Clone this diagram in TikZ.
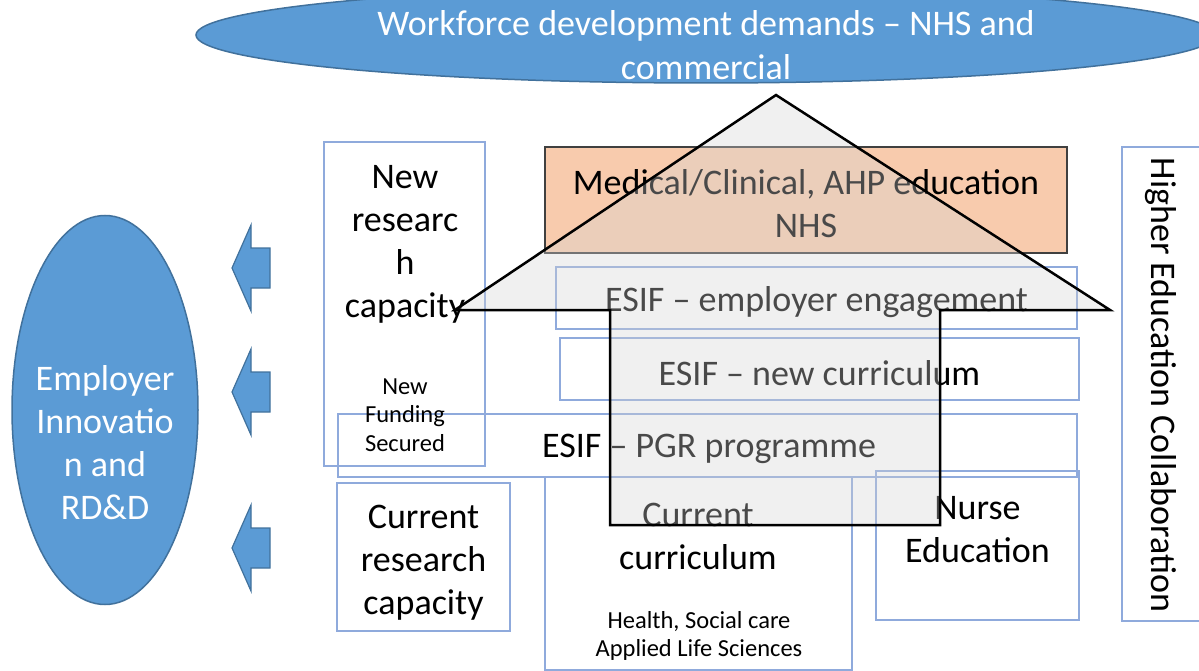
\documentclass[tikz,border=0pt]{standalone}
\usepackage{fontspec}
\setmainfont{Carlito}
\usetikzlibrary{shapes.geometric}

\definecolor{blobfill}{HTML}{5B9BD5}
\definecolor{blobedge}{HTML}{41719C}
\definecolor{boxline}{HTML}{8FAADC}
\definecolor{nhsfill}{HTML}{F8CBAD}
\definecolor{nhsedge}{HTML}{404040}

\tikzset{
  bigtext/.style={font=\fontsize{36}{43}\selectfont, align=center},
  smalltext/.style={font=\fontsize{24.5}{28.5}\selectfont, align=center},
  box/.style={draw=boxline, line width=1.5pt, inner sep=0pt},
  blob/.style={ellipse, draw=blobedge, fill=blobfill, line width=1.5pt, inner sep=0pt},
  blockarrow/.style={draw=blobedge, fill=blobfill, line width=1.2pt, line join=miter},
  housearrow/.style={draw=black, line width=2.5pt, fill=black!17, fill opacity=.35, draw opacity=1}
}

\begin{document}
\begin{tikzpicture}[x=1pt,y=-1pt]
  \useasboundingbox (0,0) rectangle (1199,671);

  % blue ellipses
  \node[blob, minimum width=1020pt, minimum height=96pt] (wfd) at (706,35) {};
  \node[blob, minimum width=186pt, minimum height=389pt] (emp) at (105,410) {};

  \begin{scope}[every node/.style={bigtext, text=white}]
    \node (wfdtext) at (706,45) {Workforce development demands – NHS and\\[1pt]commercial};
    \node (emptext) at (105,443) {Employer\\Innovatio\\n and\\RD\&D};
  \end{scope}

  % blue block arrows
  \draw[blockarrow] (232,268) -- ++(19,-43) -- ++(0,23) -- ++(19,0) -- ++(0,40) -- ++(-19,0) -- ++(0,23) -- cycle;
  \draw[blockarrow] (232,392) -- ++(19,-43) -- ++(0,23) -- ++(19,0) -- ++(0,40) -- ++(-19,0) -- ++(0,23) -- cycle;
  \draw[blockarrow] (232,548) -- ++(19,-43) -- ++(0,23) -- ++(19,0) -- ++(0,40) -- ++(-19,0) -- ++(0,23) -- cycle;

  % boxes
  \node[draw=nhsedge, fill=nhsfill, line width=1.5pt, minimum width=522pt, minimum height=106pt] (nhs) at (806,200) {};

  \begin{scope}[every node/.style={box}]
    \node[minimum width=161pt, minimum height=324pt] (newres) at (404.5,304) {};
    \node[minimum width=521pt, minimum height=62pt] (esifemp) at (816.5,298) {};
    \node[minimum width=519pt, minimum height=62pt] (esifcur) at (819.5,369) {};
    \node[minimum width=739pt, minimum height=63pt] (esifpgr) at (707.5,445.5) {};
    \node[minimum width=173pt, minimum height=148pt] (curres) at (423.5,557) {};
    \node[minimum width=307pt, minimum height=193pt] (curcurr) at (698.5,573.5) {};
    \node[minimum width=203pt, minimum height=149pt] (nurse) at (977.5,545.5) {};
    \node[minimum width=83pt, minimum height=474pt] (hec) at (1163.5,384) {};
  \end{scope}

  % texts in the boxes
  \node[bigtext] (nhstext) at (806,204) {Medical/Clinical, AHP education\\NHS};
  \node[bigtext] (esifemptext) at (816.5,302) {ESIF – employer engagement};
  \node[bigtext] (esifcurtext) at (819.5,373) {ESIF – new curriculum};
  \node[bigtext] (esifpgrtext) at (709,449) {ESIF – PGR programme};
  \node[bigtext] (currestext) at (423.5,563) {Current\\research\\capacity};
  \node[bigtext] (newrestext) at (405,244) {New\\researc\\h\\capacity};
  \node[smalltext] (fundtext) at (405,415) {New\\Funding\\Secured};
  \node[bigtext] (curcurrtext) at (698,536) {Current\\curriculum};
  \node[smalltext] (subjtext) at (699,636) {Health, Social care\\Applied Life Sciences};
  \node[bigtext] (nursetext) at (977.5,530) {Nurse\\Education};
  \node[bigtext, rotate=-90] (hectext) at (1161,385) {Higher Education Collaboration};

  % big upward arrow
  \draw[housearrow] (776,95) -- (1110,310) -- (940,310) -- (940,525) -- (610,525) -- (610,310) -- (455,310) -- cycle;

\end{tikzpicture}
\end{document}
